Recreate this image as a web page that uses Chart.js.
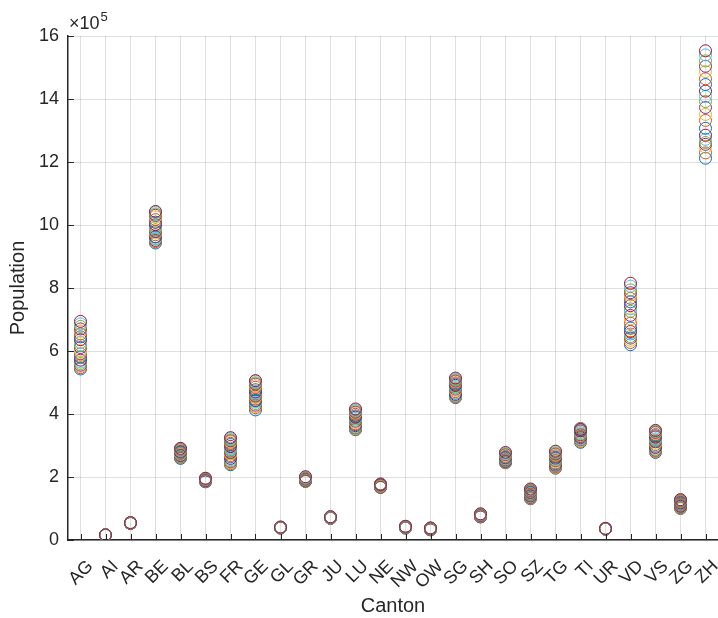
<!DOCTYPE html>
<html>
<head>
<meta charset="utf-8">
<script src="https://cdn.jsdelivr.net/npm/chart.js@4/dist/chart.umd.min.js"></script>
<style>
  html, body { margin: 0; padding: 0; background: #fff; }
  #wrap { width: 718px; height: 618px; }
</style>
</head>
<body>
<div id="wrap"><canvas id="popChart" width="718" height="618"></canvas></div>
<script>
// ===== data: population per canton, years 2000..2020 (thousands) =====
const years = [2000, 2001, 2002, 2003, 2004, 2005, 2006, 2007, 2008, 2009, 2010,
               2011, 2012, 2013, 2014, 2015, 2016, 2017, 2018, 2019, 2020];
const cantons = ["AG", "AI", "AR", "BE", "BL", "BS", "FR", "GE", "GL", "GR", "JU", "LU", "NE",
                 "NW", "OW", "SG", "SH", "SO", "SZ", "TG", "TI", "UR", "VD", "VS", "ZG", "ZH"];
const yTicks = [0, 2, 4, 6, 8, 10, 12, 14, 16];   // x 10^5

const AG = [543, 547, 551, 555, 560, 565, 571, 581, 591, 601, 611, 618, 627, 636, 645, 654, 663, 670, 678, 686, 694];
const AI = [14.9, 15.0, 15.0, 15.0, 15.1, 15.2, 15.3, 15.4, 15.5, 15.6, 15.7, 15.7, 15.8, 15.8, 15.8, 16.0, 16.1, 16.1, 16.1, 16.2, 16.3];
const AR = [53.2, 53.5, 53.2, 52.9, 52.6, 52.7, 52.8, 52.9, 53.0, 53.0, 53.0, 53.0, 53.3, 53.4, 53.7, 54.0, 54.5, 54.9, 55.2, 55.2, 55.3];
const BE = [943, 947, 950, 951, 955, 957, 962, 963, 969, 975, 979, 985, 993, 1001, 1009, 1017, 1026, 1031, 1035, 1040, 1043];
const BL = [259, 261, 263, 264, 265, 266, 268, 269, 271, 273, 275, 276, 277, 279, 281, 284, 286, 288, 289, 290, 291];
const BS = [188, 187, 187, 186, 186, 186, 185, 185, 186, 187, 187, 188, 188, 189, 190, 191, 193, 194, 195, 196, 196];
const FR = [239, 242, 245, 248, 251, 255, 259, 264, 268, 273, 278, 285, 291, 297, 303, 307, 312, 315, 318, 322, 325];
const GE = [413, 420, 424, 428, 433, 438, 442, 443, 447, 453, 457, 461, 466, 470, 477, 485, 490, 495, 499, 504, 506];
const GL = [38.2, 38.3, 38.3, 38.4, 38.4, 38.3, 38.2, 38.3, 38.5, 38.6, 39.2, 39.4, 39.4, 39.6, 39.8, 40.0, 40.1, 40.4, 40.6, 40.9, 41.2];
const GR = [186, 186, 187, 187, 187, 188, 188, 189, 190, 191, 192, 193, 193, 194, 195, 196, 197, 198, 198, 199, 201];
const JU = [69.0, 69.1, 69.3, 69.3, 69.4, 69.6, 69.6, 69.7, 69.8, 70.1, 70.5, 70.5, 70.9, 71.7, 72.4, 72.8, 73.1, 73.3, 73.4, 73.4, 73.7];
const LU = [350, 352, 354, 356, 357, 360, 363, 366, 369, 373, 377, 381, 386, 390, 394, 399, 403, 406, 410, 413, 416];
const NE = [167, 167, 167, 168, 168, 168, 168, 169, 170, 171, 173, 174, 174, 175, 176, 177, 178, 178, 177, 176, 176];
const NW = [37.7, 38.0, 38.4, 38.8, 39.4, 39.9, 40.3, 40.3, 40.6, 40.8, 41.0, 41.3, 41.6, 41.9, 42.4, 42.6, 42.6, 43.0, 43.2, 43.2, 43.5];
const OW = [32.4, 32.4, 32.7, 32.9, 33.3, 33.6, 33.7, 34.0, 34.4, 35.0, 35.6, 35.9, 36.1, 36.5, 36.8, 37.1, 37.4, 37.6, 37.8, 38.0, 38.1];
const SG = [452, 453, 455, 456, 457, 459, 462, 466, 471, 475, 479, 483, 487, 491, 495, 499, 503, 505, 508, 511, 514];
const SH = [73.4, 73.4, 73.6, 73.9, 74.5, 74.5, 74.5, 75.0, 75.7, 76.4, 77.1, 77.8, 78.0, 78.8, 79.4, 80.0, 80.8, 81.4, 81.9, 82.3, 83.1];
const SO = [245, 246, 247, 248, 249, 249, 250, 250, 252, 254, 255, 257, 259, 261, 263, 266, 269, 271, 273, 275, 278];
const SZ = [131, 132, 134, 135, 137, 139, 140, 141, 143, 145, 146, 148, 149, 151, 152, 154, 156, 157, 159, 161, 162];
const TG = [228, 229, 231, 233, 234, 236, 238, 242, 245, 249, 252, 254, 257, 260, 263, 267, 270, 273, 276, 280, 282];
const TI = [310, 313, 315, 318, 320, 322, 325, 328, 330, 333, 334, 337, 341, 346, 350, 352, 354, 354, 353, 352, 351];
const UR = [34.8, 34.9, 35.0, 35.1, 35.0, 35.0, 34.9, 35.0, 35.2, 35.3, 35.3, 35.4, 35.7, 35.9, 36.0, 36.1, 36.3, 36.4, 36.4, 36.7, 37.0];
const VD = [620, 627, 634, 641, 646, 654, 662, 673, 688, 702, 713, 726, 734, 744, 756, 767, 778, 785, 794, 806, 815];
const VS = [278, 281, 283, 285, 288, 292, 294, 298, 303, 307, 312, 317, 321, 327, 331, 335, 340, 342, 344, 346, 348];
const ZG = [100, 101, 102, 103, 104, 106, 107, 109, 111, 113, 114, 116, 117, 118, 120, 122, 124, 125, 126, 128, 128];
const ZH = [1212, 1229, 1247, 1256, 1262, 1272, 1285, 1307, 1332, 1351, 1373, 1392, 1408, 1425, 1446, 1464, 1487, 1504, 1521, 1540, 1553];

const cantonData = [AG, AI, AR, BE, BL, BS, FR, GE, GL, GR, JU, LU, NE,
                    NW, OW, SG, SH, SO, SZ, TG, TI, UR, VD, VS, ZG, ZH];

// MATLAB default color order
const colorOrder = ["#0072BD", "#D95319", "#EDB120", "#7E2F8E", "#77AC30", "#4DBEEE", "#A2142F"];

const AXIS_COLOR = "#262626";
const GRID_COLOR = "rgba(38,38,38,0.15)";
const FONT = "'Liberation Sans', Arial, Helvetica, sans-serif";

// one dataset per year, last year drawn on top
const datasets = years.map((yr, i) => ({
  label: String(yr),
  data: cantonData.map(arr => arr[i] * 1000),
  showLine: false,
  pointStyle: "circle",
  pointRadius: 6,
  pointHoverRadius: 6,
  pointBorderWidth: 1,
  borderColor: colorOrder[i % colorOrder.length],
  backgroundColor: "rgba(0,0,0,0)",
  order: years.length - i
}));

// ===== inward ticks + x10^5 exponent label =====
const matlabAxes = {
  id: "matlabAxes",
  afterDraw(chart) {
    const { ctx, chartArea, scales } = chart;
    const x = scales.x, y = scales.y;
    ctx.save();
    ctx.strokeStyle = AXIS_COLOR;
    ctx.lineWidth = 1;
    ctx.beginPath();
    yTicks.forEach(t => {
      const py = Math.round(y.getPixelForValue(t * 1e5)) + 0.5;
      ctx.moveTo(chartArea.left, py);
      ctx.lineTo(chartArea.left + 6, py);
    });
    cantons.forEach((c, i) => {
      const px = Math.round(x.getPixelForValue(i)) + 0.5;
      ctx.moveTo(px, chartArea.bottom);
      ctx.lineTo(px, chartArea.bottom - 6);
    });
    ctx.stroke();

    ctx.fillStyle = AXIS_COLOR;
    ctx.textBaseline = "alphabetic";
    ctx.textAlign = "left";
    ctx.font = "18px " + FONT;
    ctx.fillText("×10", chartArea.left + 1, chartArea.top - 7);
    const w = ctx.measureText("×10").width;
    ctx.font = "13px " + FONT;
    ctx.fillText("5", chartArea.left + 1 + w + 1, chartArea.top - 15);
    ctx.restore();
  }
};

const ctx = document.getElementById("popChart").getContext("2d");
new Chart(ctx, {
  type: "line",
  data: { labels: cantons, datasets },
  plugins: [matlabAxes],
  options: {
    responsive: false,
    animation: false,
    layout: { autoPadding: false, padding: { top: 36, right: 0, left: 0, bottom: 0 } },
    plugins: {
      legend: { display: false },
      tooltip: { enabled: false }
    },
    scales: {
      x: {
        type: "category",
        offset: true,
        grid: { offset: false, color: GRID_COLOR, drawTicks: false },
        border: { color: AXIS_COLOR, width: 1.5 },
        ticks: {
          color: AXIS_COLOR,
          font: { family: FONT, size: 18 },
          maxRotation: 45,
          minRotation: 45,
          autoSkip: false,
          padding: 16,
          labelOffset: 10
        },
        title: {
          display: true,
          text: "Canton",
          color: AXIS_COLOR,
          font: { family: FONT, size: 20 },
          padding: { top: 0, bottom: 0 }
        },
        afterFit(scale) {
          scale.height = 78;
          scale.paddingLeft = 0;
          scale.paddingRight = 0;
        }
      },
      y: {
        min: 0,
        max: 1.6e6,
        grid: { color: GRID_COLOR, drawTicks: false },
        border: { color: AXIS_COLOR, width: 1.5 },
        ticks: {
          stepSize: 2e5,
          color: AXIS_COLOR,
          font: { family: FONT, size: 18 },
          padding: 9,
          callback: v => v / 1e5
        },
        title: {
          display: true,
          text: "Population",
          color: AXIS_COLOR,
          font: { family: FONT, size: 20 },
          padding: { top: 6, bottom: 0 }
        },
        afterFit(scale) {
          scale.width = 68;
          scale.paddingTop = 0;
          scale.paddingBottom = 0;
        }
      }
    }
  }
});
</script>
</body>
</html>
